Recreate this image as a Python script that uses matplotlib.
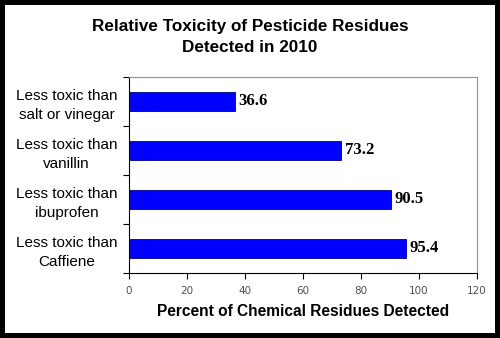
import matplotlib
matplotlib.use("Agg")
import matplotlib.pyplot as plt
import numpy as np

# residue categories, top to bottom
categories = ["Less toxic than\nsalt or vinegar", "Less toxic than\nvanillin",
              "Less toxic than\nibuprofen", "Less toxic than\nCaffiene"]
percents = [36.6, 73.2, 90.5, 95.4]
xticks = [0, 20, 40, 60, 80, 100, 120]

fig = plt.figure(figsize=(5, 3.38), dpi=100)
fig.patch.set_facecolor("white")
fig.patch.set_edgecolor("black")
fig.patch.set_linewidth(7)

ax = fig.add_axes([0.258, 0.1923, 0.696, 0.58])
ypos = np.arange(len(categories))
ax.barh(ypos, percents, height=0.4, color="#0000ff", edgecolor="#00008b", linewidth=0.6)

for y, v in zip(ypos, percents):
    ax.text(v + 1.2, y, f"{v}", va="center", ha="left", fontsize=12,
            fontweight="bold", family="Liberation Serif")

ax.set_xlim(0, 120)
ax.set_ylim(len(categories) - 0.5, -0.5)
ax.set_xticks(xticks)
ax.set_xticklabels([str(t) for t in xticks], color="#505050", fontsize=7.5)
ax.tick_params(axis="x", direction="out", length=4, width=0.8, pad=5)

# category labels at bar centres, tick marks between categories
ax.set_yticks(ypos)
ax.set_yticklabels(categories, fontsize=11, ha="center", linespacing=1.45,
                   family="Liberation Sans")
ax.tick_params(axis="y", which="major", length=0, pad=45)
ax.set_yticks(np.arange(-0.5, len(categories), 1.0), minor=True)
ax.tick_params(axis="y", which="minor", direction="out", length=4, width=0.8)

for side in ["top", "right"]:
    ax.spines[side].set_color("#909090")
    ax.spines[side].set_linewidth(0.8)
for side in ["left", "bottom"]:
    ax.spines[side].set_color("black")
    ax.spines[side].set_linewidth(0.8)

ax.set_xlabel("Percent of Chemical Residues Detected", fontsize=11.2,
              fontweight="bold", family="Liberation Sans", labelpad=6)
fig.text(0.5, 0.891, "Relative Toxicity of Pesticide Residues\nDetected in 2010",
         ha="center", va="center", fontsize=12.3, fontweight="bold",
         family="Liberation Sans", linespacing=1.55)

fig.savefig("out.png", dpi=100)
